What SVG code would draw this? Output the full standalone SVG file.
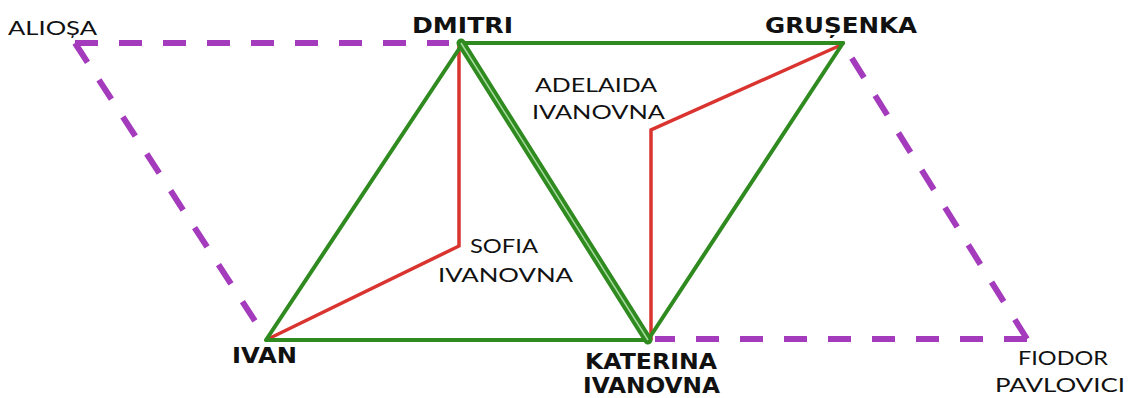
<svg xmlns="http://www.w3.org/2000/svg" width="1128" height="398" viewBox="0 0 1128 398">
<style>
.bold{font-family:"DejaVu Sans","Liberation Sans",sans-serif;font-weight:bold;font-size:21px;fill:#111}
.light{font-family:"Lato","Open Sans",sans-serif;font-size:19px;fill:#111}
.green{stroke:#2f8a1f;stroke-width:4;fill:none;stroke-linecap:round;stroke-linejoin:round}
.red{stroke:#d9342f;stroke-width:3.5;fill:none;stroke-linejoin:miter}
.purple{stroke:#a43bbd;stroke-width:6;fill:none;stroke-dasharray:23 21}
</style>
<rect width="1128" height="398" fill="#fff"/>
<g id="connectors">
  <path class="purple" d="M75 43 L449 43"/>
  <path class="purple" d="M75 43 L266 338"/>
  <path class="purple" d="M1027 339 L843 44"/>
  <path class="purple" d="M1027 339 L655 339"/>
  <path class="red" d="M459 44 L459 246 L266 340"/>
  <path class="red" d="M841 45 L651 130 L651 340"/>
  <path class="green" d="M463 43 L843 43"/>
  <path class="green" d="M463 43 L266 340 L648 340"/>
  <path class="green" d="M843 43 L648 340"/>
  <path d="M461 43 L648 340" stroke="#2f8a1f" stroke-width="9" stroke-linecap="round" fill="none"/>
  <path d="M461 43 L648 340" stroke="#a8dba0" stroke-width="1.5" fill="none"/>
</g>
<g id="aliosa"><text class="light" x="8" y="35" font-size="17" textLength="89" lengthAdjust="spacingAndGlyphs">ALIOȘA</text></g>
<g id="dmitri"><text class="bold" x="412" y="33" textLength="101" lengthAdjust="spacingAndGlyphs">DMITRI</text></g>
<g id="grusenka"><text class="bold" x="765" y="33" textLength="152" lengthAdjust="spacingAndGlyphs">GRUȘENKA</text></g>
<g id="adelaida"><text class="light" x="535" y="92" textLength="122" lengthAdjust="spacingAndGlyphs">ADELAIDA</text><text class="light" x="532" y="119" textLength="133" lengthAdjust="spacingAndGlyphs">IVANOVNA</text></g>
<g id="sofia"><text class="light" x="470" y="253" textLength="68" lengthAdjust="spacingAndGlyphs">SOFIA</text><text class="light" x="438" y="282" textLength="135" lengthAdjust="spacingAndGlyphs">IVANOVNA</text></g>
<g id="ivan"><text class="bold" x="232" y="363" textLength="65" lengthAdjust="spacingAndGlyphs">IVAN</text></g>
<g id="katerina"><text class="bold" x="585" y="369" textLength="132" lengthAdjust="spacingAndGlyphs">KATERINA</text><text class="bold" x="583" y="393" textLength="137" lengthAdjust="spacingAndGlyphs">IVANOVNA</text></g>
<g id="fiodor"><text class="light" x="1018" y="365" textLength="90" lengthAdjust="spacingAndGlyphs">FIODOR</text><text class="light" x="995" y="392" textLength="130" lengthAdjust="spacingAndGlyphs">PAVLOVICI</text></g>
</svg>
